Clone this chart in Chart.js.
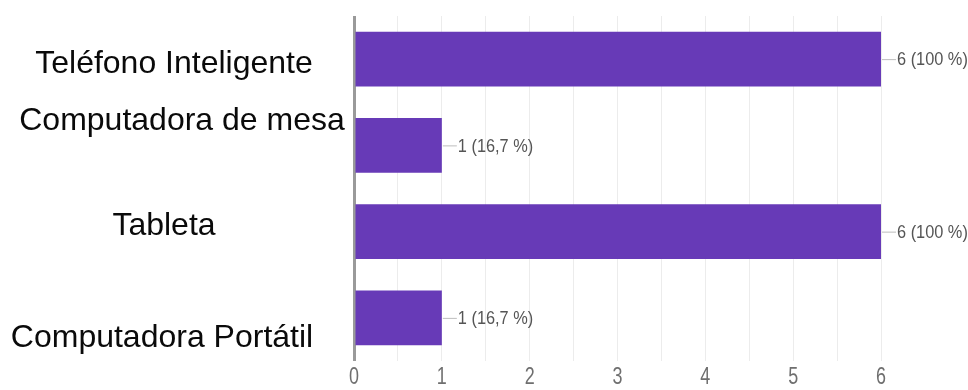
<!DOCTYPE html>
<html>
<head>
<meta charset="utf-8">
<script src="https://cdn.jsdelivr.net/npm/chart.js@4.4.1/dist/chart.umd.min.js"></script>
<style>
  html, body { margin: 0; padding: 0; background: #fff; }
  #wrap { width: 968px; height: 390px; }
</style>
</head>
<body>
<div id="wrap"><canvas id="devicesChart"></canvas></div>
<script>
// categories and values
const categories = ['Teléfono Inteligente', 'Computadora de mesa', 'Tableta', 'Computadora Portátil'];
const responses = [6, 1, 6, 1];
const valueLabels = ['6 (100 %)', '1 (16,7 %)', '6 (100 %)', '1 (16,7 %)'];
const xTicks = [0, 1, 2, 3, 4, 5, 6];

// where the big left labels sit (they are not lined up with the bars)
const labelX = [174, 182, 164, 162];
const labelDy = [5, -24, -5, 20];

const sansFont = "'Liberation Sans', Arial, sans-serif";

// the small grey texts are a condensed face, squeeze normal Arial sideways
function narrowText(ctx, text, x, y, size, squeeze, align) {
    ctx.save();
    ctx.font = size + 'px ' + sansFont;
    ctx.textAlign = align;
    ctx.textBaseline = 'middle';
    ctx.translate(x, y);
    ctx.scale(squeeze, 1);
    ctx.fillText(text, 0, 0);
    ctx.restore();
}

const labelsPlugin = {
    id: 'labelsPlugin',
    afterDatasetsDraw(chart) {
        const ctx = chart.ctx;
        const meta = chart.getDatasetMeta(0);
        const xScale = chart.scales.x;
        const yScale = chart.scales.y;

        ctx.save();
        // value labels with a short leader line
        meta.data.forEach((bar, i) => {
            const end = bar.x;
            const y = bar.y;
            ctx.strokeStyle = '#bdbdbd';
            ctx.lineWidth = 1;
            ctx.beginPath();
            ctx.moveTo(end + 1, y + 0.5);
            ctx.lineTo(end + 15, y + 0.5);
            ctx.stroke();

            ctx.fillStyle = '#555';
            narrowText(ctx, valueLabels[i], end + 16, y + 1, 19, 0.86, 'left');
        });

        // x tick numbers
        ctx.fillStyle = '#6f6f6f';
        xTicks.forEach(v => {
            narrowText(ctx, String(v), xScale.getPixelForValue(v), 378, 23, 0.78, 'center');
        });

        // category labels on the left
        ctx.fillStyle = '#0a0a0a';
        ctx.font = '32px ' + sansFont;
        ctx.textAlign = 'center';
        ctx.textBaseline = 'middle';
        categories.forEach((name, i) => {
            const y = yScale.getPixelForValue(i) + labelDy[i];
            ctx.fillText(name, labelX[i], y);
        });
        ctx.restore();
    }
};

const ctx = document.getElementById('devicesChart').getContext('2d');
const devicesChart = new Chart(ctx, {
    type: 'bar',
    data: {
        labels: categories,
        datasets: [{
            data: responses,
            backgroundColor: '#673ab7',
            borderWidth: 0,
            barPercentage: 0.71,
            categoryPercentage: 0.89
        }]
    },
    options: {
        indexAxis: 'y',
        responsive: true,
        maintainAspectRatio: false,
        animation: false,
        layout: {
            padding: { left: 354, right: 87, top: 16, bottom: 0 }
        },
        plugins: {
            legend: { display: false },
            tooltip: { enabled: false }
        },
        scales: {
            x: {
                min: xTicks[0],
                max: xTicks[xTicks.length - 1],
                ticks: {
                    stepSize: 0.5,
                    autoSkip: false,
                    maxRotation: 0,
                    padding: 5,
                    color: 'rgba(0,0,0,0)', // numbers drawn by labelsPlugin
                    font: { size: 22 },
                    callback: function(value) {
                        return xTicks.includes(value) ? String(value) : '';
                    }
                },
                grid: {
                    drawTicks: false,
                    color: c => (c.tick && c.tick.value === 0) ? '#9a9a9a' : '#ececec',
                    lineWidth: c => (c.tick && c.tick.value === 0) ? 3 : 1
                },
                border: { display: false },
                afterFit: function(scale) { scale.height = 29; }
            },
            y: {
                display: false
            }
        }
    },
    plugins: [labelsPlugin]
});
</script>
</body>
</html>
